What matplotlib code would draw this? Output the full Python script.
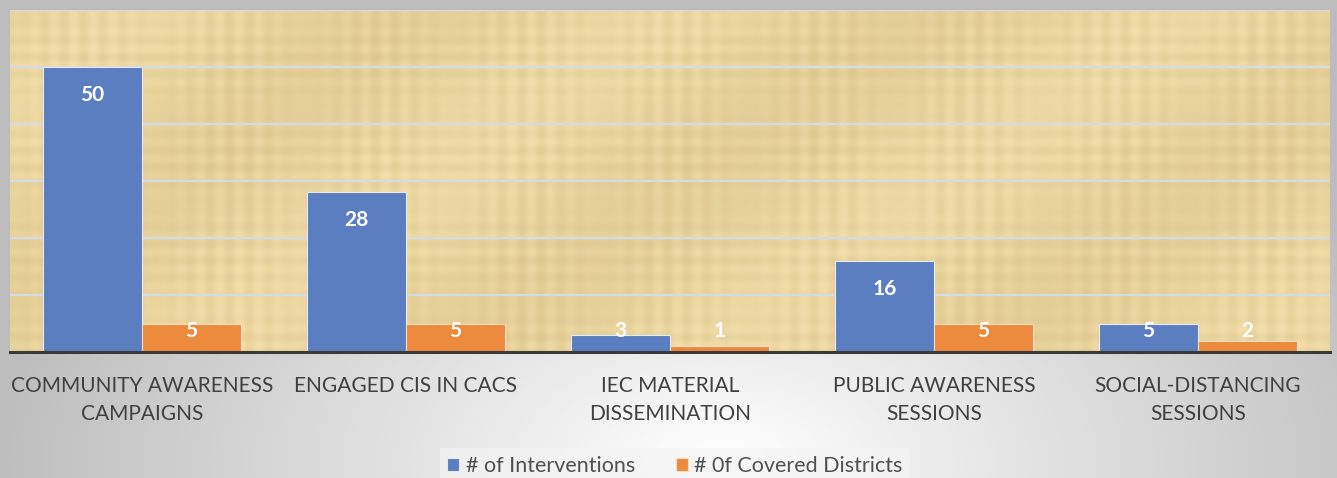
import numpy as np
import matplotlib
matplotlib.use("Agg")
import matplotlib.pyplot as plt

# chart values
categories = ["COMMUNITY AWARENESS\nCAMPAIGNS", "ENGAGED CIS IN CACS",
              "IEC MATERIAL\nDISSEMINATION", "PUBLIC AWARENESS\nSESSIONS",
              "SOCIAL-DISTANCING\nSESSIONS"]
interventions = [50, 28, 3, 16, 5]
districts = [5, 5, 1, 5, 2]
series_names = ["# of Interventions", "# 0f Covered Districts"]

blue = "#5A7EC0"
orange = "#EC8A3E"
text_col = "#404040"

plt.rcParams['font.family'] = ['Lato', 'DejaVu Sans']

fig = plt.figure(figsize=(13.37, 4.78), dpi=100)

# gray radial background
bg = fig.add_axes([0, 0, 1, 1], zorder=-10)
yy, xx = np.mgrid[0:478, 0:1337]
r = np.sqrt(((xx - 720) / 850.0) ** 2 + ((yy - 460) / 480.0) ** 2)
shade = np.clip(1.0 - 0.30 * r, 0.74, 1.0)
bg.imshow(np.dstack([shade, shade, shade]), aspect='auto', extent=[0, 1, 0, 1])
bg.axis('off')

ax = fig.add_axes([10 / 1337, 1 - 352 / 478, 1320 / 1337, 342 / 478])

# papyrus-like texture for the plot area (fibres as soft stripes)
ty, tx = np.mgrid[0:342, 0:1320]
tex = (0.018 * np.sin(tx / 3.1) * np.sin(tx / 47.0) + 0.014 * np.sin(ty / 2.7) * np.sin(ty / 31.0)
       + 0.015 * np.sin(tx / 83.0 + ty / 61.0))
base = np.array([233, 211, 157]) / 255.0
img = np.clip(base[None, None, :] + tex[:, :, None] * np.array([1.0, 1.0, 1.3]), 0, 1)
ax.imshow(img, aspect='auto', extent=[-0.5, 4.5, 0, 60], zorder=0)

x = np.arange(len(categories))
w = 0.375
b1 = ax.bar(x - w / 2, interventions, w, color=blue, edgecolor="#E6E9F2", linewidth=0.8,
            label=series_names[0], zorder=3)
b2 = ax.bar(x + w / 2, districts, w, color=orange, edgecolor="#F2DCC0", linewidth=0.8,
            label=series_names[1], zorder=3)

for bars, vals in [(b1, interventions), (b2, districts)]:
    for rect, v in zip(bars, vals):
        ypos = max(v - 4.9, 3.6)
        ax.text(rect.get_x() + rect.get_width() / 2, ypos, str(v), ha='center', va='center',
                color='white', fontsize=15, fontweight='bold', zorder=5)

ax.set_xlim(-0.5, len(categories) - 0.5)
ax.set_ylim(0, 60)
ax.set_yticks(np.arange(10, 61, 10))
ax.yaxis.grid(True, color="#D3DBE6", linewidth=1.6, zorder=1)
ax.tick_params(axis='y', left=False, labelleft=False)
ax.tick_params(axis='x', length=0, pad=17, labelsize=15, labelcolor=text_col)
ax.set_xticks(x)
ax.set_xticklabels(categories, linespacing=1.55, va='top')
for s in ['top', 'right', 'left']:
    ax.spines[s].set_visible(False)
ax.spines['bottom'].set_color('#3A3A3A')
ax.spines['bottom'].set_linewidth(2.2)
ax.spines['bottom'].set_zorder(6)

leg = fig.legend(handles=[b1, b2], labels=series_names, loc='center',
                 bbox_to_anchor=(675 / 1337, 1 - 466 / 478), ncol=2, frameon=True,
                 fontsize=15.5, handlelength=0.55, handleheight=0.55, handletextpad=0.3,
                 columnspacing=1.9, borderpad=0.35, fancybox=False)
leg.get_frame().set_facecolor('#F4F4F4')
leg.get_frame().set_edgecolor('none')
leg.get_frame().set_alpha(0.7)
for t in leg.get_texts():
    t.set_color('#505050')

fig.savefig("out.png", dpi=100)
